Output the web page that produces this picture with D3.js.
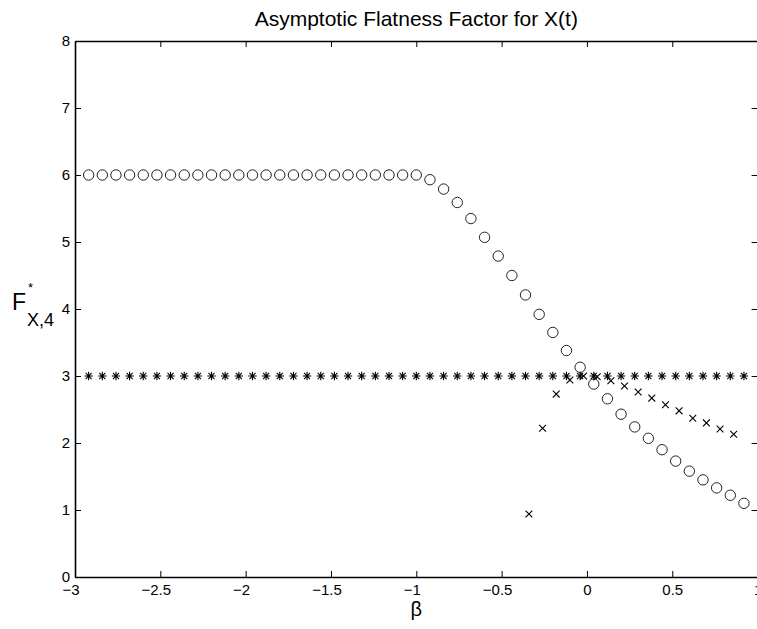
<html>
<head>
<script src='https://d3js.org/d3.v7.min.js'></script>
<style>
	body {margin: 0; background: white;}
	svg {display: block;}
	text {font-family: 'Liberation Sans', Arial, Helvetica, sans-serif; fill: black;}
</style>
</head>
<body>
<svg width=757 height=629></svg>
<script>

// beta grid shared by circles and stars
var beta = [-2.92, -2.84, -2.76, -2.68, -2.60, -2.52, -2.44, -2.36, -2.28, -2.20,
            -2.12, -2.04, -1.96, -1.88, -1.80, -1.72, -1.64, -1.56, -1.48, -1.40,
            -1.32, -1.24, -1.16, -1.08, -1.00, -0.92, -0.84, -0.76, -0.68, -0.60,
            -0.52, -0.44, -0.36, -0.28, -0.20, -0.12, -0.04, 0.04, 0.12, 0.20,
            0.28, 0.36, 0.44, 0.52, 0.60, 0.68, 0.76, 0.84, 0.92];

// circles
var circleF = [6, 6, 6, 6, 6, 6, 6, 6, 6, 6,
               6, 6, 6, 6, 6, 6, 6, 6, 6, 6,
               6, 6, 6, 6, 6, 5.93, 5.79, 5.59, 5.35, 5.07,
               4.79, 4.50, 4.21, 3.92, 3.65, 3.38, 3.13, 2.88, 2.66, 2.43,
               2.24, 2.07, 1.90, 1.73, 1.58, 1.45, 1.33, 1.22, 1.10];

// stars
var starF = [3, 3, 3, 3, 3, 3, 3, 3, 3, 3,
             3, 3, 3, 3, 3, 3, 3, 3, 3, 3,
             3, 3, 3, 3, 3, 3, 3, 3, 3, 3,
             3, 3, 3, 3, 3, 3, 3, 3, 3, 3,
             3, 3, 3, 3, 3, 3, 3, 3, 3];

// crosses (own grid)
var crossBeta = [-0.34, -0.26, -0.18, -0.10, -0.02, 0.06, 0.14, 0.22,
                 0.30, 0.38, 0.46, 0.54, 0.62, 0.70, 0.78, 0.86];
var crossF = [0.94, 2.22, 2.73, 2.94, 3.00, 2.99, 2.93, 2.85,
              2.76, 2.67, 2.57, 2.48, 2.37, 2.30, 2.21, 2.13];

var xTicks = [-3, -2.5, -2, -1.5, -1, -0.5, 0, 0.5, 1];
var yTicks = [0, 1, 2, 3, 4, 5, 6, 7, 8];

var mLeft = 75, mRight = 757.6, mTop = 41, mBottom = 577;

var x = d3.scaleLinear().domain([-3, 1]).range([mLeft, mRight]);
var y = d3.scaleLinear().domain([0, 8]).range([mBottom, mTop]);

var svg = d3.select("svg");

function fmt(d) {
	return d < 0 ? "\u2212" + Math.abs(d) : "" + d;
}

//axes: bottom, left, top, right with inward ticks
var tk = 6;
svg.append("g")
  .attr("transform", "translate(0," + mBottom + ")")
  .call(d3.axisBottom(x).tickValues(xTicks).tickSizeInner(-tk).tickSizeOuter(0).tickPadding(7).tickFormat(fmt))
  .call(function(g) {
	  g.select(".domain").attr("stroke-width", 1.6);
	  g.selectAll("text").attr("font-size", 15).attr("dx", function(d) { return d < 0 ? -4.5 : 0; });
  });

svg.append("g")
  .attr("transform", "translate(" + mLeft + ",0)")
  .call(d3.axisLeft(y).tickValues(yTicks).tickSizeInner(-tk).tickSizeOuter(0).tickPadding(5).tickFormat(fmt))
  .call(function(g) {
	  g.select(".domain").attr("stroke-width", 1.6);
	  g.selectAll("text").attr("font-size", 15);
  });

svg.append("g")
  .attr("transform", "translate(0," + mTop + ")")
  .call(d3.axisTop(x).tickValues(xTicks).tickSizeInner(-tk).tickSizeOuter(0).tickFormat(""))
  .call(function(g) { g.select(".domain").attr("stroke-width", 1.6); });

//right axis line falls just outside the window, only its ticks show
svg.append("g")
  .attr("transform", "translate(" + mRight + ",0)")
  .call(d3.axisRight(y).tickValues(yTicks).tickSizeInner(-tk).tickSizeOuter(0).tickFormat(""))
  .call(function(g) { g.select(".domain").remove(); });

//circles
svg.append("g").selectAll("circle").data(beta).enter().append("circle")
  .attr("cx", function(d) { return x(d); })
  .attr("cy", function(d, i) { return y(circleF[i]); })
  .attr("r", 5.2)
  .attr("fill", "none")
  .attr("stroke", "#222")
  .attr("stroke-width", 1);

//stars: plus and x overlaid
var s = 4.2, sd = 4.2 * 0.72;
var starPath = "M" + (-s) + ",0L" + s + ",0M0," + (-s) + "L0," + s +
  "M" + (-sd) + "," + (-sd) + "L" + sd + "," + sd + "M" + (-sd) + "," + sd + "L" + sd + "," + (-sd);
svg.append("g").selectAll("path").data(beta).enter().append("path")
  .attr("transform", function(d, i) { return "translate(" + x(d) + "," + y(starF[i]) + ")"; })
  .attr("d", starPath)
  .attr("stroke", "black")
  .attr("stroke-width", 1.1);

//crosses
var c = 3.4;
var crossPath = "M" + (-c) + "," + (-c) + "L" + c + "," + c + "M" + (-c) + "," + c + "L" + c + "," + (-c);
svg.append("g").selectAll("path").data(crossBeta).enter().append("path")
  .attr("transform", function(d, i) { return "translate(" + x(d) + "," + y(crossF[i]) + ")"; })
  .attr("d", crossPath)
  .attr("stroke", "black")
  .attr("stroke-width", 1.1);

//title
svg.append("text")
  .attr("x", (mLeft + mRight) / 2)
  .attr("y", 26)
  .attr("text-anchor", "middle")
  .attr("font-size", 21)
  .text("Asymptotic Flatness Factor for X(t)");

//x label
svg.append("text")
  .attr("x", (mLeft + mRight) / 2)
  .attr("y", 616)
  .attr("text-anchor", "middle")
  .attr("font-size", 20)
  .text("\u03b2");

//y label F*_{X,4}
var yl = svg.append("text").attr("x", 12).attr("y", 310).attr("font-size", 23);
yl.append("tspan").text("F");
yl.append("tspan").attr("x", 28).attr("y", 292).attr("font-size", 13).text("*");
yl.append("tspan").attr("x", 27).attr("y", 326).attr("font-size", 18).text("X,4");

</script>
</body>
</html>
